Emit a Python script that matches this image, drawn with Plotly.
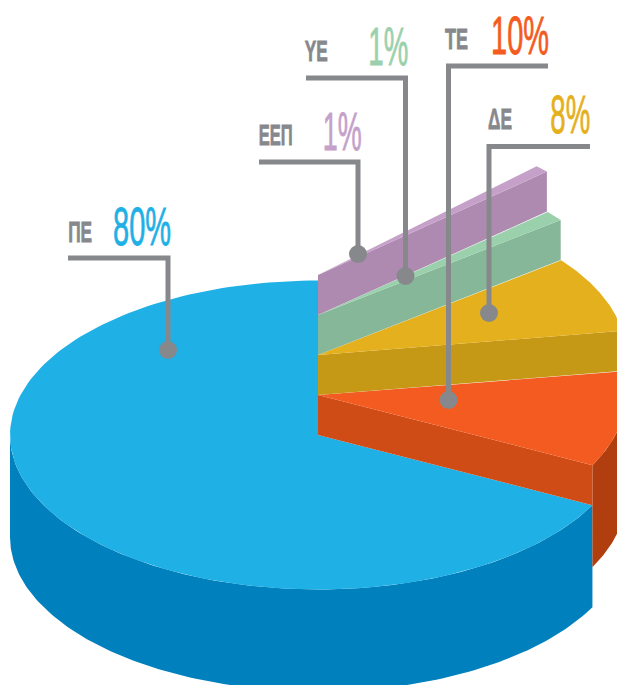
import numpy as np
import plotly.graph_objects as go

# ---- data ----
categories = ["ΠΕ", "ΤΕ", "ΔΕ", "ΥΕ", "ΕΕΠ"]
shares = [80, 10, 8, 1, 1]
# drawn wedge limits (degrees on the tilted disc, clockwise from 3 o'clock)
wedge_start = [27, -9, -38, -42, -45]
wedge_end = [270, 27, -9, -38, -42]
tier = [0, 1, 2, 3, 4]

# ---- styles ----
top_colors = ["#1FB0E6", "#F45B20", "#E5B01D", "#9AD1AC", "#C5A1CA"]
cut_colors = [None, "#CF4C17", "#C59816", "#87B799", "#AE8AB0"]
wall_colors = ["#0080BC", "#B13E0F", None, None, None]
pct_colors = ["#1FB0E6", "#F45B20", "#E5B01D", "#9AD1AC", "#C5A1CA"]
GRAY = "#87888C"
FONT = "Liberation Sans"

# ---- pie geometry ----
CX, CY, RX, RY = 318, 435, 308, 154.5
DEPTH, STEP = 102, 40

def rim(a0, a1, cy, n=160):
    t = np.radians(np.linspace(a0, a1, n))
    return CX + RX * np.cos(t), cy + RY * np.sin(t)

def polygon(xs, ys, color, name):
    return go.Scatter(x=xs, y=ys, mode="lines", fill="toself", fillcolor=color,
                      line=dict(width=0, color=color), hoverinfo="skip", name=name)

traces = []
for i, cat in enumerate(categories):
    a0, a1, cy = wedge_start[i], wedge_end[i], CY - STEP * tier[i]
    if wall_colors[i]:
        w0, w1 = max(a0, 0), min(a1, 180)
        x, y = rim(w0, w1, cy)
        traces.append(polygon(np.r_[x, x[::-1]], np.r_[y, y[::-1] + DEPTH], wall_colors[i], cat))
    if cut_colors[i]:
        x, y = rim(a1, a1, cy, 1)
        traces.append(polygon([CX, x[0], x[0], CX, CX], [cy, y[0], y[0] + STEP, cy + STEP, cy],
                              cut_colors[i], cat))
    x, y = rim(a0, a1, cy)
    traces.append(polygon(np.r_[CX, x, CX], np.r_[cy, y, cy], top_colors[i], cat))

fig = go.Figure(traces)

# ---- leaders ----
leaders = {
    "ΠΕ": ([68, 168, 168], [258, 258, 350]),
    "ΤΕ": ([548, 448.5, 448.5], [66, 66, 400]),
    "ΔΕ": ([590, 489, 489], [146.5, 146.5, 313]),
    "ΥΕ": ([306, 405.5, 405.5], [78, 78, 276]),
    "ΕΕΠ": ([259, 358, 358], [162, 162, 254]),
}
for cat in categories:
    xs, ys = leaders[cat]
    fig.add_trace(go.Scatter(x=xs, y=ys, mode="lines", line=dict(color=GRAY, width=5),
                             hoverinfo="skip", name=cat))
    fig.add_trace(go.Scatter(x=[xs[-1]], y=[ys[-1]], mode="markers",
                             marker=dict(color=GRAY, size=18), hoverinfo="skip", name=cat))

# ---- text: centre x, centre y, target width ----
label_pos = {"ΠΕ": (79.5, 232, 24), "ΤΕ": (456, 39, 23), "ΔΕ": (499.5, 119, 24),
             "ΥΕ": (316, 51, 23), "ΕΕΠ": (275.5, 135, 34)}
pct_pos = {"ΠΕ": (141.5, 226, 58), "ΤΕ": (519.5, 35, 58), "ΔΕ": (570, 114, 40),
           "ΥΕ": (388.5, 46.5, 40), "ΕΕΠ": (342, 131, 39)}
widths = []
annots = []
for i, cat in enumerate(categories):
    x, y, w = label_pos[cat]
    annots.append(dict(x=x, y=y, text=f"<b>{cat}</b>", showarrow=False, xanchor="center", yanchor="middle",
                       font=dict(family=FONT, size=29, color=GRAY)))
    widths.append(w)
    x, y, w = pct_pos[cat]
    annots.append(dict(x=x, y=y, text=f"{shares[i]}%", showarrow=False, xanchor="center", yanchor="middle",
                       font=dict(family=FONT, size=53, color=pct_colors[i])))
    widths.append(w)

fig.update_layout(width=617, height=685, margin=dict(l=0, r=0, t=0, b=0),
                  paper_bgcolor="white", plot_bgcolor="white", showlegend=False,
                  annotations=annots,
                  xaxis=dict(range=[0, 617], visible=False, fixedrange=True),
                  yaxis=dict(range=[685, 0], visible=False, fixedrange=True))

post = """
document.body.style.margin='0';document.body.style.overflow='hidden';
var W=%s;
document.querySelectorAll('.annotation-text').forEach(function(t,i){
  var b=t.getBBox(),c=b.x+b.width/2,s=W[i]/b.width;
  t.setAttribute('transform','translate('+c+',0) scale('+s+',1) translate('+(-c)+',0)');
  t.style.stroke=t.style.fill||getComputedStyle(t).fill;
  t.style.strokeWidth=(i%%2==0)?'0.8px':'0.8px';
});
""" % widths
fig.write_html("out.html", post_script=post, config={"displayModeBar": False})
